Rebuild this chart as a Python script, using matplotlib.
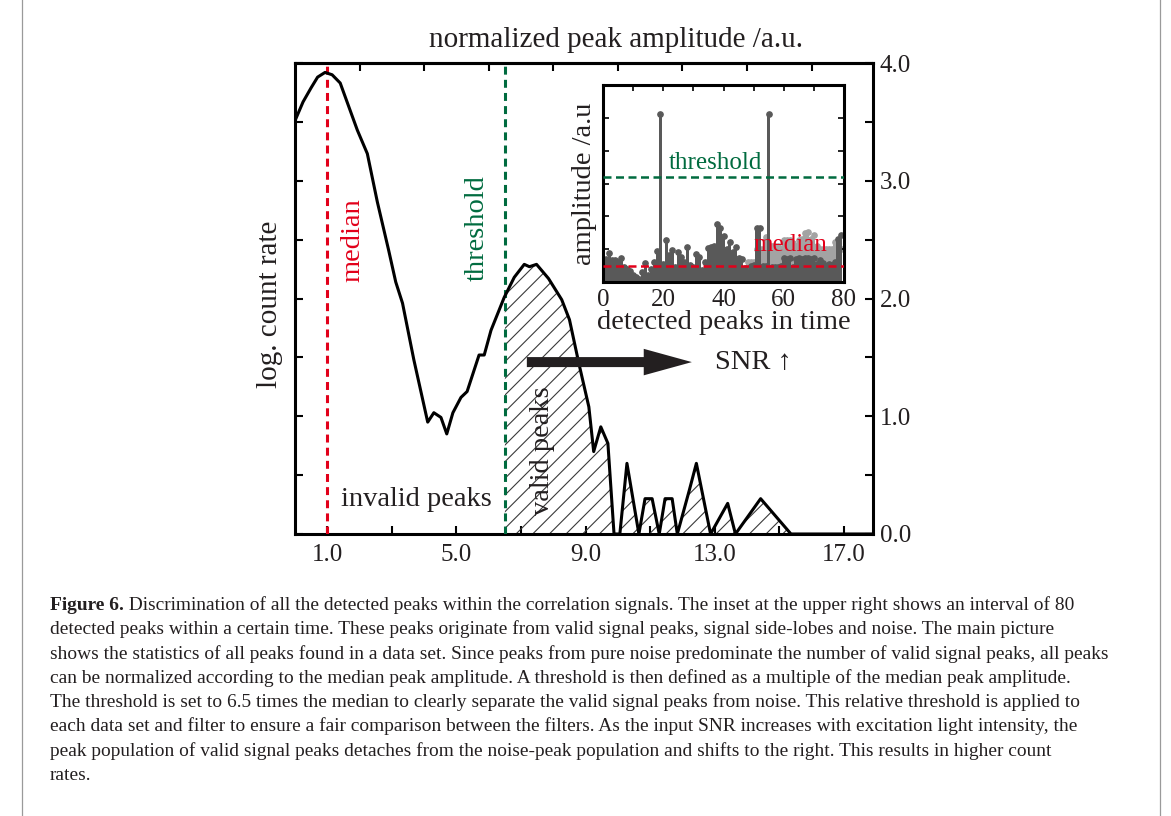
import numpy as np
import matplotlib.pyplot as plt
from matplotlib.patches import FancyArrow
from matplotlib.ticker import MultipleLocator, FormatStrFormatter

plt.rcParams['font.family'] = ['Liberation Serif', 'DejaVu Serif']
plt.rcParams['hatch.linewidth'] = 0.8

INK = '#231f20'
RED = '#e2001a'
GREEN = '#006b3f'
DARK = '#595959'
LIGHT = '#a3a3a3'

# main picture: normalized peak amplitude vs. log count rate
amp = [0.0, 0.25, 0.5, 0.7, 0.93, 1.15, 1.4, 1.93, 2.24, 2.55, 2.9, 3.12, 3.33, 3.68,
       4.11, 4.3, 4.52, 4.7, 4.89, 5.14, 5.33, 5.7, 5.86, 6.07, 6.48, 6.79, 7.1,
       7.26, 7.48, 7.85, 8.26, 8.5, 8.79, 9.1, 9.25, 9.47, 9.69, 9.88, 10.06,
       10.28, 10.65, 10.84, 11.06, 11.28, 11.46, 11.68, 11.84, 12.21, 12.43,
       12.87, 13.4, 13.64, 14.42, 15.36, 17.9]
rate = [3.51, 3.67, 3.79, 3.88, 3.92, 3.90, 3.83, 3.43, 3.23, 2.82, 2.41, 2.14, 1.96,
        1.48, 0.95, 1.03, 0.99, 0.85, 1.03, 1.16, 1.21, 1.52, 1.52, 1.73, 2.01,
        2.18, 2.29, 2.27, 2.29, 2.17, 1.99, 1.82, 1.45, 1.08, 0.70, 0.91, 0.77,
        0.0, 0.0, 0.60, 0.0, 0.30, 0.30, 0.0, 0.30, 0.30, 0.0, 0.37, 0.60, 0.0,
        0.26, 0.0, 0.30, 0.0, 0.0]
median_amp = 1.0
threshold_amp = 6.5

x_major = [1, 5, 9, 13, 17]
x_minor = [3, 7, 11, 15]
x_top = [2, 4, 6, 8, 10, 12, 14, 16]

# inset: 80 detected peaks in time
peak_dark = [0.55, 0.70, 0.87, 0.67, 0.66, 0.60, 0.74, 0.45, 0.40, 0.35,
             0.22, 0.15, 0.10, 0.30, 0.59, 0.21, 0.40, 0.60, 0.94, 5.12,
             0.55, 1.28, 0.83, 0.98, 0.45, 0.92, 0.76, 0.60, 1.06, 0.52,
             0.45, 0.84, 0.75, 0.37, 0.60, 1.05, 1.08, 1.10, 1.76, 1.64,
             1.41, 1.00, 1.23, 0.90, 1.08, 0.72, 0.70, 0.42, 0.30, 0.50,
             0.52, 1.65, 1.64, 0.50, 0.48, 5.12, 0.47, 0.45, 0.47, 0.50,
             0.72, 0.70, 0.72, 0.45, 0.70, 0.72, 0.70, 0.72, 0.72, 0.70,
             0.72, 0.55, 0.67, 0.59, 0.50, 0.55, 0.52, 0.60, 1.30, 1.43]
peak_light = [0.0] * 48 + [0.60, 0.60, 0.60, 1.00, 1.00, 1.00, 1.38, 1.10, 1.10, 1.10,
                           1.10, 1.00, 1.28, 1.28, 1.28, 1.20, 1.10, 1.28, 1.30, 1.48,
                           1.53, 1.30, 1.43, 1.10, 1.00, 1.00, 1.00, 1.00, 1.00, 1.23,
                           1.00, 1.00]
inset_threshold = 3.2
inset_median = 0.49

fig = plt.figure(figsize=(11.71, 8.16), dpi=100)
W, H = 1171.0, 816.0


def box(l, t, r, b):
    return [l / W, 1 - b / H, (r - l) / W, (b - t) / H]


ax = fig.add_axes(box(295, 63, 873, 534))
ax.plot(amp, rate, color='black', lw=2.2, zorder=4)

# hatched area of valid peaks
a = np.array(amp)
r = np.array(rate)
keep = a > threshold_amp
xf = np.concatenate([[threshold_amp], a[keep]])
yf = np.concatenate([[np.interp(threshold_amp, a, r)], r[keep]])
ax.fill_between(xf, 0, yf, facecolor='none', edgecolor='#3a3a3a', hatch='//', lw=0, zorder=2)

ax.axvline(median_amp, color=RED, lw=2.2, ls=(0, (2.6, 1.7)), zorder=3)
ax.axvline(threshold_amp, color=GREEN, lw=2.2, ls=(0, (2.6, 1.7)), zorder=3)

ax.add_patch(FancyArrow(7.18, 1.46, 12.29 - 7.18, 0, width=0.085, head_width=0.225,
                        head_length=1.49, length_includes_head=True, color=INK, lw=0, zorder=5))

ax.text(1.78, 2.50, 'median', color=RED, rotation=90, fontsize=20.5, ha='center', va='center')
ax.text(5.63, 2.60, 'threshold', color=GREEN, rotation=90, fontsize=20.5, ha='center', va='center')
ax.text(3.75, 0.29, 'invalid peaks', color=INK, fontsize=20.5, ha='center', va='center')
ax.text(7.68, 0.71, 'valid peaks', color=INK, rotation=90, fontsize=20.5, ha='center', va='center')
ax.text(13.0, 1.46, 'SNR \u2191', color=INK, fontsize=20.5, ha='left', va='center')

ax.set_xlim(0, 17.9)
ax.set_ylim(0, 4)
ax.set_xticks(x_major)
ax.set_xticks(x_minor, minor=True)
ax.xaxis.set_major_formatter(FormatStrFormatter('%.1f'))
ax.set_yticks([0, 1, 2, 3, 4])
ax.yaxis.set_minor_locator(MultipleLocator(0.5))
ax.yaxis.set_major_formatter(FormatStrFormatter('%.1f'))
ax.tick_params(which='both', direction='in', length=6, width=1.5, color='black',
               labelsize=18, labelcolor=INK, left=True, right=True,
               labelleft=False, labelright=True, top=False)
ax.tick_params(axis='x', pad=7)
ax.tick_params(axis='y', pad=5)
for s in ax.spines.values():
    s.set_linewidth(2.2)

top = ax.secondary_xaxis('top')
top.set_xticks(x_top)
top.tick_params(direction='in', length=6, width=1.5, labeltop=False)
top.xaxis.set_minor_locator(plt.NullLocator())
top.spines['top'].set_linewidth(2.2)

fig.text(616 / W, 1 - 40 / H, 'normalized peak amplitude /a.u.', fontsize=21, color=INK,
         ha='center', va='center')
fig.text(270 / W, 1 - 304 / H, 'log. count rate', fontsize=21, color=INK,
         rotation=90, ha='center', va='center')

# inset
ins = fig.add_axes(box(603, 85, 844, 282))
idx = np.arange(len(peak_dark))
ins.bar(idx, peak_light, width=1.0, color=LIGHT, lw=0, zorder=1)
light_pts = np.array(peak_light) > 0
ins.plot(idx[light_pts], np.array(peak_light)[light_pts], 'o', ms=3.8, color=LIGHT, zorder=1)
ins.bar(idx, peak_dark, width=1.0, color=DARK, lw=0, zorder=2)
ins.plot(idx, peak_dark, 'o', ms=3.8, color=DARK, zorder=2)
ins.axhline(inset_threshold, color=GREEN, lw=1.8, ls=(0, (3.2, 1.8)), zorder=3)
ins.axhline(inset_median, color=RED, lw=1.8, ls=(0, (3.2, 1.8)), zorder=3)
ins.text(37.3, 3.63, 'threshold', color=GREEN, fontsize=18, ha='center', va='center')
ins.text(62.3, 1.13, 'median', color=RED, fontsize=18, ha='center', va='center', zorder=4)

ins.set_xlim(0, 80)
ins.set_ylim(0, 6.0)
ins.set_xticks([0, 20, 40, 60, 80])
ins.xaxis.set_minor_locator(MultipleLocator(10))
ins.set_yticks([1, 2, 3, 4, 5])
ins.tick_params(which='both', direction='in', length=4, width=1.2, top=True, right=True,
                labelleft=False, labelsize=18, labelcolor=INK, pad=5)
ins.set_xlabel('detected peaks in time', fontsize=20.5, color=INK, labelpad=-1)
ins.set_ylabel('amplitude /a.u', fontsize=20.5, color=INK, labelpad=4)
for s in ins.spines.values():
    s.set_linewidth(2.2)

# caption
cap_lines = [
    ' Discrimination of all the detected peaks within the correlation signals. The inset at the upper right shows an interval of 80',
    'detected peaks within a certain time. These peaks originate from valid signal peaks, signal side-lobes and noise. The main picture',
    'shows the statistics of all peaks found in a data set. Since peaks from pure noise predominate the number of valid signal peaks, all peaks',
    'can be normalized according to the median peak amplitude. A threshold is then defined as a multiple of the median peak amplitude.',
    'The threshold is set to 6.5 times the median to clearly separate the valid signal peaks from noise. This relative threshold is applied to',
    'each data set and filter to ensure a fair comparison between the filters. As the input SNR increases with excitation light intensity, the',
    'peak population of valid signal peaks detaches from the noise-peak population and shifts to the right. This results in higher count',
    'rates.',
]
renderer = fig.canvas.get_renderer()
probe = fig.text(0, 0, cap_lines[2], fontsize=14)
cap_size = 14 * 1063.0 / probe.get_window_extent(renderer).width
probe.remove()

x0 = 50 / W
head = fig.text(x0, 1 - 605 / H, 'Figure 6.', fontsize=cap_size, fontweight='bold',
                color=INK, va='center')
hw = head.get_window_extent(renderer).width / W
for i, line in enumerate(cap_lines):
    xs = x0 + hw if i == 0 else x0
    fig.text(xs, 1 - (605 + 24.3 * i) / H, line, fontsize=cap_size, color=INK, va='center')

# page frame
for xb in (22, 1160):
    fig.add_artist(plt.Line2D([xb / W, xb / W], [0, 1], color='#9a9a9a', lw=0.9))

fig.savefig('out.png', dpi=100)
